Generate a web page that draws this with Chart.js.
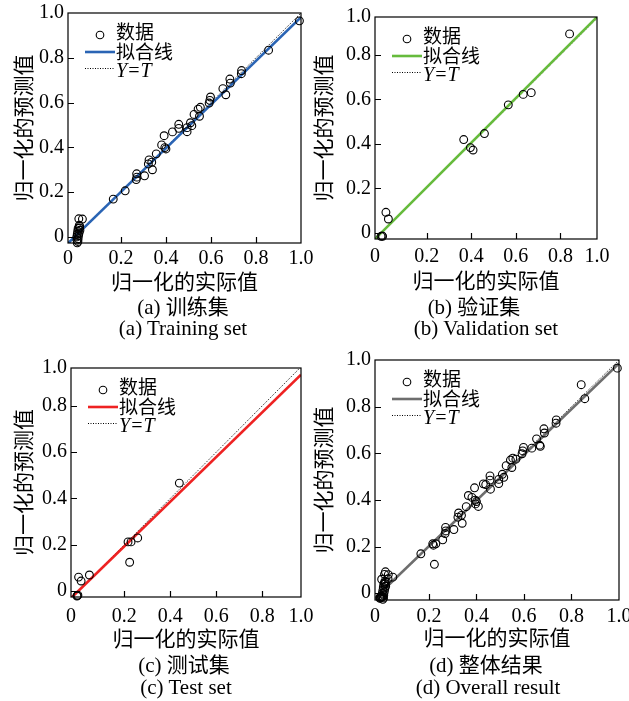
<!DOCTYPE html>
<html>
<head>
<meta charset="utf-8">
<script src="https://cdn.jsdelivr.net/npm/chart.js@4.4.1/dist/chart.umd.min.js"></script>
<style>
  body { margin: 0; background: #fff; width: 629px; height: 701px; position: relative; overflow: hidden; }
  canvas { position: absolute; }
  .cap { position: absolute; font: 21px "Liberation Serif", "Noto Sans CJK SC", serif; white-space: nowrap;
         transform: translate(-50%, -50%); color: #000; }
</style>
</head>
<body>
<canvas id="cA" width="314" height="294" style="left:0;top:0"></canvas>
<canvas id="cB" width="329" height="293" style="left:300px;top:0"></canvas>
<canvas id="cC" width="314" height="306" style="left:0;top:345px"></canvas>
<canvas id="cD" width="329" height="305" style="left:300px;top:345px"></canvas>
<div class="cap" style="left:183px;top:305px">(a) 训练集</div>
<div class="cap" style="left:183px;top:328px">(a) Training set</div>
<div class="cap" style="left:474px;top:305px">(b) 验证集</div>
<div class="cap" style="left:486px;top:328px">(b) Validation set</div>
<div class="cap" style="left:184px;top:663px">(c) 测试集</div>
<div class="cap" style="left:186px;top:687px">(c) Test set</div>
<div class="cap" style="left:486px;top:663px">(d) 整体结果</div>
<div class="cap" style="left:488px;top:687px">(d) Overall result</div>
<script>
const trainX = [0.993, 0.856, 0.736, 0.735, 0.684, 0.686, 0.653, 0.666, 0.598, 0.595, 0.592, 0.553, 0.543, 0.525,
  0.549, 0.509, 0.515, 0.494, 0.494, 0.457, 0.457, 0.429, 0.392, 0.381, 0.395, 0.400, 0.357, 0.325, 0.337, 0.322,
  0.340, 0.305, 0.270, 0.271, 0.268, 0.219, 0.166,
  0.013, 0.029, 0.017, 0.015, 0.010, 0.018, 0.008, 0.014, 0.006, 0.012, 0.004, 0.010, 0.005, 0.009, 0.006, 0.016];
const trainY = [0.965, 0.834, 0.743, 0.729, 0.705, 0.687, 0.662, 0.635, 0.625, 0.610, 0.598, 0.579, 0.571, 0.547,
  0.539, 0.510, 0.497, 0.488, 0.470, 0.503, 0.485, 0.469, 0.452, 0.411, 0.399, 0.393, 0.371, 0.344, 0.334, 0.326,
  0.300, 0.273, 0.282, 0.267, 0.256, 0.206, 0.169,
  0.081, 0.080, 0.047, 0.052, 0.038, 0.030, 0.026, 0.018, 0.012, 0.006, 0.000, -0.008, -0.014, -0.020, -0.026, 0.040];

const valX = [0.841, 0.633, 0.669, 0.566, 0.459, 0.366, 0.396, 0.408, 0.017, 0.028, -0.005, 0.002, 0.000];
const valY = [0.894, 0.622, 0.630, 0.575, 0.446, 0.419, 0.383, 0.372, 0.092, 0.062, -0.016, -0.016, -0.014];

const testX = [0.439, 0.216, 0.229, 0.258, 0.223, 0.001, 0.012, 0.048, -0.005, -0.002, -0.006];
const testY = [0.466, 0.212, 0.212, 0.229, 0.124, 0.060, 0.043, 0.069, -0.020, -0.018, -0.022];

// overall result = union of the three sets
const allX = [...trainX, ...valX, ...testX];
const allY = [...trainY, ...valY, ...testY];

// fitted lines (end points)
const trainFitX = [-0.035, 1.0], trainFitY = [-0.028, 0.981];
const valFitX = [-0.032, 0.964], valFitY = [-0.028, 0.970];
const testFitX = [-0.032, 0.968], testFitY = [-0.031, 0.934];
const allFitX = [-0.027, 1.0], allFitY = [-0.021, 0.985];
const identX = [-0.04, 1.0];

const innerTicks = [0.2, 0.4, 0.6, 0.8];
const legendLabels = ['数据', '拟合线', 'Y=T'];
const xTitle = '归一化的实际值';
const yTitle = '归一化的预测值';

const serif = '"Liberation Serif", "Times New Roman", serif';
const cjk = '"Noto Sans CJK SC", sans-serif';

// Frame, inward ticks and the small legend inside the plot
const framePlugin = {
  id: 'frame',
  afterDraw(chart) {
    const { ctx, chartArea: a, scales: { x, y } } = chart;
    ctx.save();
    ctx.strokeStyle = '#000';
    ctx.lineWidth = 1.2;
    ctx.strokeRect(a.left, a.top, a.right - a.left, a.bottom - a.top);
    ctx.beginPath();
    x.ticks.forEach(t => {
      if (t.value <= x.min + 1e-6 || t.value >= x.max - 1e-6) return;
      const px = Math.round(x.getPixelForValue(t.value)) + 0.5;
      ctx.moveTo(px, a.bottom); ctx.lineTo(px, a.bottom - 6);
    });
    y.ticks.forEach(t => {
      if (t.value <= y.min + 1e-6 || t.value >= y.max - 1e-6) return;
      const py = Math.round(y.getPixelForValue(t.value)) + 0.5;
      ctx.moveTo(a.left, py); ctx.lineTo(a.left + 6, py);
    });
    ctx.stroke();

    // legend
    const L = a.left, T = a.top;
    const fitColor = chart.data.datasets[1].borderColor;
    ctx.lineWidth = 1.1;
    ctx.beginPath();
    ctx.arc(L + 32, T + 22, 3.8, 0, Math.PI * 2);
    ctx.stroke();
    ctx.strokeStyle = fitColor;
    ctx.lineWidth = 2.6;
    ctx.beginPath(); ctx.moveTo(L + 17, T + 39); ctx.lineTo(L + 47, T + 39); ctx.stroke();
    ctx.strokeStyle = '#000';
    ctx.lineWidth = 1;
    ctx.setLineDash([1, 1.5]);
    ctx.beginPath(); ctx.moveTo(L + 17, T + 55.5); ctx.lineTo(L + 47, T + 55.5); ctx.stroke();
    ctx.setLineDash([]);
    ctx.fillStyle = '#000';
    ctx.textBaseline = 'alphabetic';
    ctx.textAlign = 'left';
    ctx.font = '19px ' + cjk;
    ctx.fillText(legendLabels[0], L + 48, T + 26);
    ctx.fillText(legendLabels[1], L + 48, T + 46);
    ctx.font = 'italic 20px ' + serif;
    ctx.fillText(legendLabels[2], L + 48, T + 64);
    ctx.restore();
  }
};

function pts(xs, ys) { return xs.map((v, i) => ({ x: v, y: ys[i] })); }

function makePanel(id, p) {
  new Chart(document.getElementById(id), {
    type: 'scatter',
    data: {
      datasets: [
        {
          data: pts(p.xs, p.ys), pointStyle: 'circle', pointRadius: 3.9, pointBorderWidth: 1.1,
          borderColor: '#000', backgroundColor: 'rgba(0,0,0,0)', clip: false, order: 0,
        },
        {
          data: pts(p.fitX, p.fitY), showLine: true, borderColor: p.color, borderWidth: 2.6,
          pointRadius: 0, order: 1,
        },
        {
          data: pts(identX, identX), showLine: true, borderColor: '#000', borderWidth: 1,
          borderDash: [1, 1.5], pointRadius: 0, order: 2,
        },
      ],
    },
    plugins: [framePlugin],
    options: {
      responsive: false,
      animation: false,
      devicePixelRatio: 1,
      layout: { padding: { top: p.padTop, right: p.padRight, left: 0, bottom: 0 } },
      plugins: { legend: { display: false }, tooltip: { enabled: false } },
      scales: {
        x: {
          type: 'linear', min: p.xmin, max: p.xmax,
          grid: { display: false, drawTicks: false }, border: { display: false },
          afterBuildTicks: s => { s.ticks = [p.xmin, ...innerTicks, p.xmax].map(v => ({ value: v })); },
          afterFit: s => { s.height = p.xH; s.paddingLeft = 0; s.paddingRight = 0; },
          ticks: {
            autoSkip: false, maxRotation: 0, padding: p.xPad, color: '#000',
            font: { family: serif, size: 20 },
            callback: v => (v <= p.xmin + 1e-6 ? '0' : v >= p.xmax - 1e-6 ? '1.0' : v.toFixed(1)),
          },
          title: { display: true, text: xTitle, color: '#000', padding: { top: 0, bottom: 0 },
                   font: { family: cjk, size: 21, lineHeight: 1.2 } },
        },
        y: {
          type: 'linear', min: p.ymin, max: p.ymax,
          grid: { display: false, drawTicks: false }, border: { display: false },
          afterBuildTicks: s => { s.ticks = [0, ...innerTicks, p.ymax].map(v => ({ value: v })); },
          afterFit: s => { s.width = p.yW; s.paddingTop = 0; s.paddingBottom = 0; },
          ticks: {
            autoSkip: false, padding: 4, color: '#000',
            font: { family: serif, size: 20 },
            callback: v => (v >= p.ymax - 1e-6 ? '1.0' : v < 0.1 ? '0' : v.toFixed(1)),
          },
          title: { display: true, text: yTitle, color: '#000', padding: { top: 10, bottom: 0 },
                   font: { family: cjk, size: 21, lineHeight: 1.2 } },
        },
      },
    },
  });
}

makePanel('cA', { xs: trainX, ys: trainY, fitX: trainFitX, fitY: trainFitY, color: '#2a64b4',
  xmin: -0.035, xmax: 1.0, ymin: -0.027, ymax: 1.0, padTop: 13, padRight: 13, yW: 68, xH: 51, xPad: 4 });
makePanel('cB', { xs: valX, ys: valY, fitX: valFitX, fitY: valFitY, color: '#66bb3c',
  xmin: -0.032, xmax: 0.964, ymin: -0.028, ymax: 0.970, padTop: 17, padRight: 32, yW: 75, xH: 54, xPad: 6 });
makePanel('cC', { xs: testX, ys: testY, fitX: testFitX, fitY: testFitY, color: '#ee2222',
  xmin: -0.032, xmax: 0.968, ymin: -0.026, ymax: 0.963, padTop: 23, padRight: 13, yW: 71, xH: 54, xPad: 8 });
makePanel('cD', { xs: allX, ys: allY, fitX: allFitX, fitY: allFitY, color: '#6e6e6e',
  xmin: -0.027, xmax: 1.0, ymin: -0.029, ymax: 1.0, padTop: 15, padRight: 10, yW: 75, xH: 50, xPad: 5 });
</script>
</body>
</html>
